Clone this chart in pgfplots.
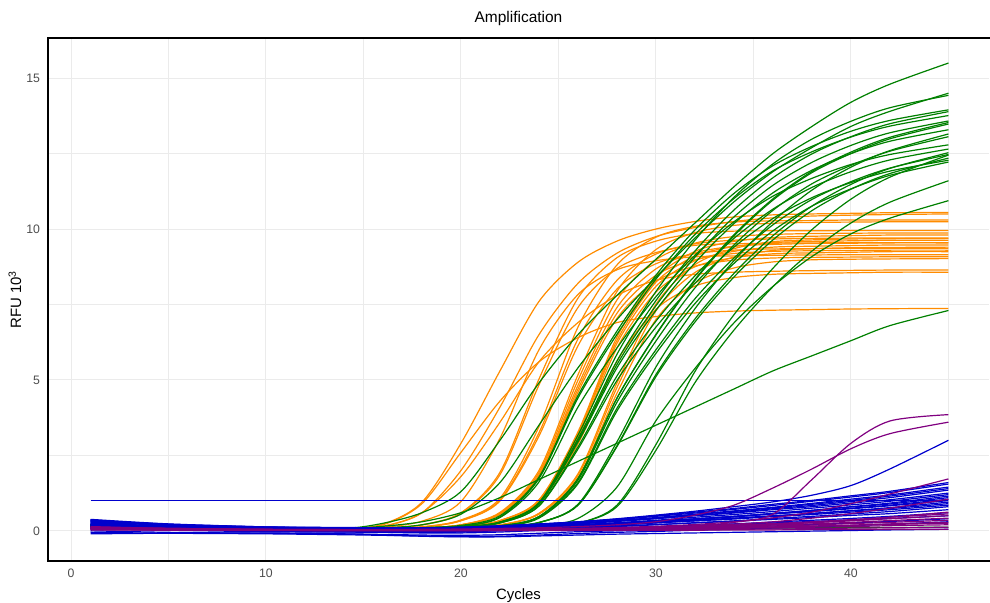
\documentclass[border=0pt]{standalone}
\usepackage{pgfplots}
\pgfplotsset{compat=1.18}
\usepackage{fontspec}
\setmainfont{Liberation Sans}

\definecolor{cOr}{RGB}{255,140,0}
\definecolor{cGr}{RGB}{0,128,0}
\definecolor{cBl}{RGB}{0,0,205}
\definecolor{cPu}{RGB}{128,0,128}
\definecolor{gridc}{RGB}{235,235,235}
\definecolor{tickc}{RGB}{77,77,77}

\pgfplotsset{
  qor/.style={cOr, line width=0.9pt, smooth, no markers},
  qgr/.style={cGr, line width=0.9pt, smooth, no markers},
  qbl/.style={cBl, line width=0.9pt, smooth, no markers},
  qpu/.style={cPu, line width=0.9pt, smooth, no markers},
}

\begin{document}
\begin{tikzpicture}
\path[use as bounding box] (-36pt,-31.5pt) rectangle (706.5pt,420.75pt);
\begin{axis}[
  at={(0pt,0pt)}, anchor=south west,
  scale only axis, width=705.75pt, height=392.25pt,
  xmin=-1.18, xmax=47.08, ymin=-1, ymax=16.33,
  axis line style={draw=none},
  xtick={0,10,20,30,40}, ytick={0,5,10,15},
  minor xtick={5,15,25,35,45}, minor ytick={2.5,7.5,12.5},
  grid=both,
  major grid style={gridc, line width=0.75pt},
  minor grid style={gridc, line width=0.75pt},
  major tick length=0pt, minor tick length=0pt,
  tick style={draw=none},
  /pgf/number format/assume math mode=true,
  tick label style={font=\fontsize{9.2}{11}\selectfont, text=tickc},
  xticklabel style={yshift=-2.6pt},
  yticklabel style={xshift=-2.5pt},
  title={Amplification},
  title style={font=\fontsize{11.6}{14}\selectfont, at={(axis description cs:0.5,1)}, anchor=center, yshift=8.25pt},
  xlabel={Cycles},
  xlabel style={font=\fontsize{11.2}{13}\selectfont, at={(axis description cs:0.5,0)}, anchor=center, yshift=-26pt},
  ylabel={RFU 10\textsuperscript{3}},
  ylabel style={font=\fontsize{11.2}{13}\selectfont, at={(axis description cs:0,0.5)}, anchor=center, yshift=24.75pt},
]
% ---------------- orange wells ----------------
\addplot[qor] coordinates {(1,0.18)(5,0.12)(10,0.08)(14,0.08)(16,0.22)(18,0.95)(20,2.9)(22,5.3)(24,7.6)(26,8.9)(28,9.6)(30,10.0)(32,10.25)(34,10.4)(36,10.47)(38,10.5)(40,10.52)(42,10.54)(45,10.55)};
\addplot[qor] coordinates {(1,0.12)(5,0.09)(10,0.07)(14,0.07)(16,0.15)(18,0.6)(20,2.0)(22,4.1)(24,6.5)(26,8.2)(28,9.2)(30,9.75)(32,10.05)(34,10.25)(36,10.37)(38,10.43)(40,10.46)(42,10.48)(45,10.5)};
\addplot[qor] coordinates {(1,0.15)(5,0.1)(10,0.07)(14,0.06)(16,0.2)(18,0.9)(20,2.6)(22,4.3)(24,5.6)(26,6.4)(28,6.9)(30,7.1)(32,7.22)(34,7.28)(36,7.31)(38,7.33)(40,7.35)(42,7.36)(45,7.37)};
\addplot[qor] coordinates {(1,0.1)(5,0.08)(10,0.06)(14,0.06)(16,0.15)(18,0.6)(20,1.8)(22,3.6)(24,5.6)(26,6.9)(28,7.8)(30,8.3)(32,8.5)(34,8.57)(36,8.6)(38,8.62)(40,8.63)(42,8.64)(45,8.64)};
\addplot[qor] coordinates {(1,0.2)(5,0.12)(10,0.08)(14,0.07)(16,0.12)(18,0.32)(20,0.97)(22,3.07)(24,6.0)(26,7.83)(28,8.65)(30,8.95)(32,9.08)(34,9.11)(36,9.13)(38,9.14)(40,9.15)(42,9.15)(45,9.15)};
\addplot[qor] coordinates {(1,0.22)(5,0.13)(10,0.08)(14,0.07)(16,0.09)(18,0.2)(20,0.6)(22,1.94)(24,5.03)(26,7.71)(28,9.05)(30,9.6)(32,9.85)(34,9.93)(36,9.94)(38,9.94)(40,9.95)(42,9.95)(45,9.95)};
\addplot[qor] coordinates {(1,0.08)(5,0.06)(10,0.05)(14,0.06)(16,0.09)(18,0.19)(20,0.58)(22,1.86)(24,4.83)(26,7.4)(28,8.69)(30,9.22)(32,9.46)(34,9.51)(36,9.53)(38,9.54)(40,9.55)(42,9.55)(45,9.55)};
\addplot[qor] coordinates {(1,0.16)(5,0.1)(10,0.07)(14,0.06)(16,0.07)(18,0.13)(20,0.36)(22,1.08)(24,3.45)(26,6.75)(28,8.81)(30,9.73)(32,10.09)(34,10.23)(36,10.27)(38,10.28)(40,10.3)(42,10.3)(45,10.3)};
\addplot[qor] coordinates {(1,0.12)(5,0.08)(10,0.06)(14,0.06)(16,0.07)(18,0.13)(20,0.34)(22,1.02)(24,3.25)(26,6.36)(28,8.3)(30,9.17)(32,9.51)(34,9.63)(36,9.67)(38,9.69)(40,9.7)(42,9.7)(45,9.7)};
\addplot[qor] coordinates {(1,0.2)(5,0.12)(10,0.07)(14,0.06)(16,0.07)(18,0.12)(20,0.33)(22,0.99)(24,3.14)(26,6.13)(28,8.01)(30,8.85)(32,9.18)(34,9.3)(36,9.34)(38,9.35)(40,9.36)(42,9.36)(45,9.36)};
\addplot[qor] coordinates {(1,0.1)(5,0.07)(10,0.05)(14,0.05)(16,0.06)(18,0.09)(20,0.2)(22,0.61)(24,2.0)(26,5.17)(28,7.93)(30,9.32)(32,9.88)(34,10.12)(36,10.19)(38,10.22)(40,10.23)(42,10.24)(45,10.24)};
\addplot[qor] coordinates {(1,0.14)(5,0.09)(10,0.06)(14,0.05)(16,0.06)(18,0.09)(20,0.2)(22,0.59)(24,1.93)(26,4.99)(28,7.65)(30,8.98)(32,9.53)(34,9.75)(36,9.82)(38,9.85)(40,9.86)(42,9.87)(45,9.87)};
\addplot[qor] coordinates {(1,0.18)(5,0.11)(10,0.07)(14,0.06)(16,0.06)(18,0.09)(20,0.19)(22,0.57)(24,1.86)(26,4.82)(28,7.4)(30,8.68)(32,9.21)(34,9.43)(36,9.49)(38,9.52)(40,9.53)(42,9.54)(45,9.54)};
\addplot[qor] coordinates {(1,0.09)(5,0.07)(10,0.05)(14,0.05)(16,0.06)(18,0.09)(20,0.19)(22,0.55)(24,1.78)(26,4.59)(28,7.04)(30,8.27)(32,8.77)(34,8.97)(36,9.04)(38,9.06)(40,9.07)(42,9.08)(45,9.08)};
\addplot[qor] coordinates {(1,0.13)(5,0.09)(10,0.06)(14,0.05)(16,0.05)(18,0.07)(20,0.13)(22,0.33)(24,1.0)(26,3.18)(28,6.21)(30,8.1)(32,8.95)(34,9.26)(36,9.4)(38,9.43)(40,9.45)(42,9.47)(45,9.47)};
\addplot[qor] coordinates {(1,0.17)(5,0.1)(10,0.07)(14,0.05)(16,0.05)(18,0.07)(20,0.13)(22,0.34)(24,1.01)(26,3.23)(28,6.31)(30,8.24)(32,9.1)(34,9.42)(36,9.55)(38,9.59)(40,9.61)(42,9.63)(45,9.63)};
\addplot[qor] coordinates {(1,0.11)(5,0.08)(10,0.06)(14,0.05)(16,0.05)(18,0.07)(20,0.12)(22,0.33)(24,0.98)(26,3.1)(28,6.06)(30,7.91)(32,8.75)(34,9.05)(36,9.18)(38,9.21)(40,9.23)(42,9.25)(45,9.25)};
\addplot[qor] coordinates {(1,0.15)(5,0.09)(10,0.06)(14,0.05)(16,0.05)(18,0.07)(20,0.12)(22,0.31)(24,0.91)(26,2.88)(28,5.62)(30,7.34)(32,8.11)(34,8.39)(36,8.5)(38,8.53)(40,8.55)(42,8.57)(45,8.57)};
\addplot[qor] coordinates {(1,0.12)(5,0.08)(10,0.06)(14,0.05)(16,0.05)(18,0.06)(20,0.09)(22,0.19)(24,0.55)(26,1.76)(28,4.56)(30,7.0)(32,8.21)(34,8.71)(36,8.91)(38,8.98)(40,9.0)(42,9.01)(45,9.02)};
\addplot[qor] coordinates {(1,0.19)(5,0.11)(10,0.07)(14,0.05)(16,0.05)(18,0.07)(20,0.13)(22,0.34)(24,1.03)(26,3.28)(28,6.42)(30,8.38)(32,9.26)(34,9.59)(36,9.72)(38,9.76)(40,9.78)(42,9.8)(45,9.8)};
\addplot[qor] coordinates {(1,0.1)(5,0.07)(10,0.05)(14,0.05)(16,0.05)(18,0.06)(20,0.09)(22,0.2)(24,0.58)(26,1.89)(28,4.9)(30,7.51)(32,8.82)(34,9.35)(36,9.58)(38,9.64)(40,9.67)(42,9.68)(45,9.69)};
\addplot[qor] coordinates {(1,0.14)(5,0.09)(10,0.06)(14,0.05)(16,0.05)(18,0.06)(20,0.09)(22,0.19)(24,0.57)(26,1.84)(28,4.75)(30,7.29)(32,8.56)(34,9.07)(36,9.29)(38,9.35)(40,9.38)(42,9.39)(45,9.4)};
\addplot[qor] coordinates {(1,0.16)(5,0.1)(10,0.07)(14,0.06)(16,0.06)(18,0.09)(20,0.19)(22,0.56)(24,1.82)(26,4.7)(28,7.21)(30,8.47)(32,8.98)(34,9.19)(36,9.26)(38,9.28)(40,9.29)(42,9.3)(45,9.3)};
% ---------------- green wells ----------------
\addplot[qgr] coordinates {(1,0.2)(5,0.13)(10,0.08)(14,0.08)(16,0.25)(18,0.6)(20,1.3)(22,3.0)(24,4.9)(26,6.5)(28,7.8)(30,9.0)(32,10.2)(34,11.4)(36,12.5)(38,13.4)(40,14.2)(42,14.8)(45,15.5)};
\addplot[qgr] coordinates {(1,0.15)(5,0.1)(10,0.07)(14,0.08)(16,0.15)(18,0.3)(20,0.6)(22,1.1)(24,1.7)(26,2.3)(28,2.9)(30,3.5)(32,4.1)(34,4.7)(36,5.3)(38,5.8)(40,6.3)(42,6.8)(45,7.3)};
\addplot[qgr] coordinates {(1,0.16)(5,0.1)(10,0.07)(14,0.07)(16,0.1)(18,0.2)(20,0.55)(22,1.6)(24,3.5)(26,5.4)(28,7.0)(30,8.4)(32,9.7)(34,10.9)(36,11.9)(38,12.7)(40,13.4)(42,13.9)(45,14.5)};
\addplot[qgr] coordinates {(1,0.12)(5,0.08)(10,0.06)(14,0.05)(16,0.05)(18,0.08)(20,0.12)(22,0.29)(24,0.94)(26,3.17)(28,5.85)(30,7.93)(32,9.63)(34,11.05)(36,12.16)(38,12.98)(40,13.57)(42,14.02)(45,14.43)};
\addplot[qgr] coordinates {(1,0.2)(5,0.12)(10,0.08)(14,0.07)(16,0.08)(18,0.11)(20,0.18)(22,0.5)(24,1.78)(26,4.48)(28,6.62)(30,8.47)(32,9.97)(34,11.18)(36,12.1)(38,12.74)(40,13.24)(42,13.6)(45,13.95)};
\addplot[qgr] coordinates {(1,0.1)(5,0.07)(10,0.05)(14,0.05)(16,0.05)(18,0.08)(20,0.12)(22,0.28)(24,0.91)(26,3.05)(28,5.63)(30,7.63)(32,9.27)(34,10.63)(36,11.7)(38,12.49)(40,13.06)(42,13.49)(45,13.89)};
\addplot[qgr] coordinates {(1,0.14)(5,0.09)(10,0.05)(14,0.04)(16,0.05)(18,0.08)(20,0.15)(22,0.46)(24,1.73)(26,4.4)(28,6.51)(30,8.34)(32,9.82)(34,11.01)(36,11.93)(38,12.56)(40,13.05)(42,13.41)(45,13.76)};
\addplot[qgr] coordinates {(1,0.18)(5,0.11)(10,0.07)(14,0.06)(16,0.06)(18,0.09)(20,0.13)(22,0.28)(24,0.9)(26,2.99)(28,5.51)(30,7.46)(32,9.07)(34,10.4)(36,11.45)(38,12.21)(40,12.77)(42,13.19)(45,13.58)};
\addplot[qgr] coordinates {(1,0.11)(5,0.07)(10,0.05)(14,0.05)(16,0.05)(18,0.06)(20,0.09)(22,0.16)(24,0.47)(26,1.73)(28,4.39)(30,6.49)(32,8.3)(34,9.77)(36,10.96)(38,11.87)(40,12.5)(42,12.99)(45,13.48)};
\addplot[qgr] coordinates {(1,0.15)(5,0.1)(10,0.08)(14,0.07)(16,0.07)(18,0.1)(20,0.14)(22,0.29)(24,0.89)(26,2.94)(28,5.4)(30,7.31)(32,8.88)(34,10.18)(36,11.2)(38,11.95)(40,12.5)(42,12.91)(45,13.29)};
\addplot[qgr] coordinates {(1,0.13)(5,0.08)(10,0.06)(14,0.05)(16,0.05)(18,0.05)(20,0.08)(22,0.12)(24,0.27)(26,0.88)(28,2.95)(30,5.43)(32,7.36)(34,8.95)(36,10.25)(38,11.29)(40,12.05)(42,12.6)(45,13.15)};
\addplot[qgr] coordinates {(1,0.17)(5,0.1)(10,0.07)(14,0.06)(16,0.06)(18,0.07)(20,0.1)(22,0.17)(24,0.47)(26,1.68)(28,4.26)(30,6.29)(32,8.05)(34,9.47)(36,10.62)(38,11.5)(40,12.11)(42,12.58)(45,13.06)};
\addplot[qgr] coordinates {(1,0.09)(5,0.06)(10,0.05)(14,0.04)(16,0.04)(18,0.04)(20,0.04)(22,0.07)(24,0.11)(26,0.25)(28,0.85)(30,2.86)(32,5.28)(34,7.16)(36,8.7)(38,9.98)(40,10.99)(42,11.72)(45,12.45)};
\addplot[qgr] coordinates {(1,0.14)(5,0.09)(10,0.06)(14,0.05)(16,0.05)(18,0.08)(20,0.12)(22,0.26)(24,0.83)(26,2.78)(28,5.13)(30,6.95)(32,8.45)(34,9.69)(36,10.66)(38,11.38)(40,11.9)(42,12.29)(45,12.65)};
\addplot[qgr] coordinates {(1,0.19)(5,0.11)(10,0.07)(14,0.06)(16,0.06)(18,0.06)(20,0.09)(22,0.13)(24,0.27)(26,0.85)(28,2.82)(30,5.18)(32,7.02)(34,8.53)(36,9.78)(38,10.76)(40,11.48)(42,12.01)(45,12.53)};
\addplot[qgr] coordinates {(1,0.12)(5,0.08)(10,0.06)(14,0.05)(16,0.05)(18,0.06)(20,0.09)(22,0.15)(24,0.44)(26,1.6)(28,4.06)(30,6.0)(32,7.69)(34,9.04)(36,10.14)(38,10.98)(40,11.57)(42,12.02)(45,12.47)};
\addplot[qgr] coordinates {(1,0.21)(5,0.13)(10,0.08)(14,0.07)(16,0.07)(18,0.07)(20,0.1)(22,0.14)(24,0.28)(26,0.85)(28,2.79)(30,5.11)(32,6.92)(34,8.41)(36,9.64)(38,10.61)(40,11.32)(42,11.84)(45,12.35)};
\addplot[qgr] coordinates {(1,0.1)(5,0.06)(10,0.05)(14,0.04)(16,0.04)(18,0.05)(20,0.08)(22,0.14)(24,0.42)(26,1.56)(28,3.97)(30,5.88)(32,7.53)(34,8.86)(36,9.94)(38,10.76)(40,11.33)(42,11.78)(45,12.22)};
\addplot[qgr] coordinates {(1,0.16)(5,0.1)(10,0.07)(14,0.05)(16,0.05)(18,0.05)(20,0.05)(22,0.08)(24,0.11)(26,0.25)(28,0.8)(30,2.67)(32,4.91)(34,6.65)(36,8.09)(38,9.27)(40,10.2)(42,10.89)(45,11.6)};
\addplot[qgr] coordinates {(1,0.13)(5,0.09)(10,0.07)(14,0.06)(16,0.06)(18,0.06)(20,0.07)(22,0.1)(24,0.15)(26,0.41)(28,1.45)(30,3.65)(32,5.38)(34,6.89)(36,8.1)(38,9.09)(40,9.84)(42,10.36)(45,10.94)};
\addplot[qgr] coordinates {(1,0.17)(5,0.11)(10,0.07)(14,0.06)(16,0.06)(18,0.09)(20,0.15)(22,0.44)(24,1.62)(26,4.1)(28,6.06)(30,7.76)(32,9.13)(34,10.24)(36,11.09)(38,11.68)(40,12.14)(42,12.47)(45,12.79)};
\addplot[qgr] coordinates {(1,0.11)(5,0.08)(10,0.06)(14,0.06)(16,0.06)(18,0.09)(20,0.12)(22,0.26)(24,0.82)(26,2.71)(28,4.98)(30,6.75)(32,8.2)(34,9.4)(36,10.35)(38,11.04)(40,11.54)(42,11.92)(45,12.28)};
\addplot[qgr] coordinates {(1,0.2)(5,0.12)(10,0.07)(14,0.05)(16,0.05)(18,0.06)(20,0.09)(22,0.16)(24,0.47)(26,1.73)(28,4.4)(30,6.51)(32,8.33)(34,9.81)(36,11.0)(38,11.91)(40,12.55)(42,13.04)(45,13.53)};
\addplot[qgr] coordinates {(1,0.12)(5,0.08)(10,0.06)(14,0.05)(16,0.05)(18,0.05)(20,0.05)(22,0.06)(24,0.06)(26,0.07)(28,0.07)(30,0.08)(32,0.08)(34,0.09)(36,0.09)(38,0.1)(40,0.1)(42,0.11)(45,0.12)};
% ---------------- blue wells ----------------
\addplot[qbl] coordinates {(1,0.38)(5,0.23)(10,0.13)(14,0.09)(16,0.08)(18,0.08)(20,0.11)(22,0.15)(24,0.21)(26,0.29)(28,0.37)(30,0.48)(32,0.59)(34,0.71)(36,0.84)(38,0.98)(40,1.12)(42,1.27)(45,1.55)};
\addplot[qbl] coordinates {(1,0.35)(5,0.21)(10,0.1)(14,0.07)(16,0.06)(18,0.06)(20,0.09)(22,0.13)(24,0.19)(26,0.25)(28,0.34)(30,0.44)(32,0.55)(34,0.66)(36,0.78)(38,0.91)(40,1.05)(42,1.19)(45,1.45)};
\addplot[qbl] coordinates {(1,0.3)(5,0.18)(10,0.09)(14,0.06)(16,0.05)(18,0.05)(20,0.08)(22,0.12)(24,0.17)(26,0.23)(28,0.31)(30,0.4)(32,0.51)(34,0.61)(36,0.73)(38,0.84)(40,0.97)(42,1.1)(45,1.35)};
\addplot[qbl] coordinates {(1,0.28)(5,0.19)(10,0.13)(14,0.11)(16,0.1)(18,0.1)(20,0.12)(22,0.16)(24,0.2)(26,0.26)(28,0.33)(30,0.41)(32,0.5)(34,0.59)(36,0.7)(38,0.8)(40,0.92)(42,1.03)(45,1.25)};
\addplot[qbl] coordinates {(1,0.25)(5,0.14)(10,0.07)(14,0.05)(16,0.04)(18,0.04)(20,0.06)(22,0.1)(24,0.14)(26,0.2)(28,0.27)(30,0.35)(32,0.45)(34,0.54)(36,0.64)(38,0.75)(40,0.86)(42,0.98)(45,1.2)};
\addplot[qbl] coordinates {(1,0.22)(5,0.12)(10,0.05)(14,0.03)(16,0.02)(18,0.01)(20,0.04)(22,0.07)(24,0.12)(26,0.17)(28,0.24)(30,0.31)(32,0.4)(34,0.48)(36,0.58)(38,0.68)(40,0.79)(42,0.89)(45,1.1)};
\addplot[qbl] coordinates {(1,0.2)(5,0.14)(10,0.1)(14,0.09)(16,0.08)(18,0.08)(20,0.1)(22,0.13)(24,0.16)(26,0.21)(28,0.26)(30,0.33)(32,0.4)(34,0.48)(36,0.56)(38,0.64)(40,0.73)(42,0.83)(45,1.0)};
\addplot[qbl] coordinates {(1,0.18)(5,0.09)(10,0.03)(14,0.01)(16,0.0)(18,-0.02)(20,-0.01)(22,0.03)(24,0.08)(26,0.13)(28,0.19)(30,0.26)(32,0.33)(34,0.41)(36,0.49)(38,0.58)(40,0.67)(42,0.77)(45,0.95)};
\addplot[qbl] coordinates {(1,0.15)(5,0.1)(10,0.07)(14,0.06)(16,0.05)(18,0.05)(20,0.07)(22,0.09)(24,0.12)(26,0.16)(28,0.21)(30,0.27)(32,0.33)(34,0.39)(36,0.47)(38,0.54)(40,0.62)(42,0.7)(45,0.85)};
\addplot[qbl] coordinates {(1,0.12)(5,0.05)(10,0.0)(14,-0.01)(16,-0.02)(18,-0.04)(20,-0.03)(22,0.0)(24,0.05)(26,0.09)(28,0.14)(30,0.2)(32,0.27)(34,0.33)(36,0.41)(38,0.48)(40,0.56)(42,0.64)(45,0.8)};
\addplot[qbl] coordinates {(1,0.1)(5,0.07)(10,0.04)(14,0.03)(16,0.03)(18,0.03)(20,0.04)(22,0.06)(24,0.09)(26,0.12)(28,0.16)(30,0.21)(32,0.26)(34,0.32)(36,0.38)(38,0.44)(40,0.51)(42,0.57)(45,0.7)};
\addplot[qbl] coordinates {(1,0.08)(5,0.02)(10,-0.03)(14,-0.04)(16,-0.05)(18,-0.07)(20,-0.07)(22,-0.04)(24,0.01)(26,0.04)(28,0.08)(30,0.13)(32,0.18)(34,0.23)(36,0.29)(38,0.35)(40,0.41)(42,0.48)(45,0.6)};
\addplot[qbl] coordinates {(1,0.05)(5,0.03)(10,0.01)(14,0.0)(16,0.0)(18,-0.01)(20,0.0)(22,0.02)(24,0.05)(26,0.07)(28,0.1)(30,0.14)(32,0.18)(34,0.22)(36,0.26)(38,0.31)(40,0.36)(42,0.41)(45,0.5)};
\addplot[qbl] coordinates {(1,0.0)(5,-0.05)(10,-0.08)(14,-0.1)(16,-0.12)(18,-0.14)(20,-0.15)(22,-0.13)(24,-0.08)(26,-0.03)(28,0.0)(30,0.04)(32,0.08)(34,0.12)(36,0.16)(38,0.21)(40,0.26)(42,0.31)(45,0.4)};
\addplot[qbl] coordinates {(1,-0.05)(5,-0.08)(10,-0.1)(14,-0.13)(16,-0.15)(18,-0.17)(20,-0.19)(22,-0.18)(24,-0.14)(26,-0.09)(28,-0.05)(30,-0.02)(32,0.02)(34,0.05)(36,0.09)(38,0.13)(40,0.17)(42,0.22)(45,0.3)};
\addplot[qbl] coordinates {(1,-0.1)(5,-0.08)(10,-0.07)(14,-0.1)(16,-0.14)(18,-0.18)(20,-0.2)(22,-0.2)(24,-0.17)(26,-0.14)(28,-0.11)(30,-0.09)(32,-0.07)(34,-0.05)(36,-0.03)(38,-0.01)(40,0.01)(42,0.03)(45,0.05)};
\addplot[qbl] coordinates {(1,0.32)(5,0.2)(10,0.11)(14,0.08)(16,0.07)(18,0.07)(20,0.1)(22,0.14)(24,0.19)(26,0.26)(28,0.34)(30,0.43)(32,0.54)(34,0.64)(36,0.76)(38,0.88)(40,1.01)(42,1.15)(45,1.4)};
\addplot[qbl] coordinates {(1,0.15)(5,0.08)(10,0.04)(14,0.03)(16,0.02)(18,0.02)(20,0.04)(22,0.07)(24,0.11)(26,0.16)(28,0.23)(30,0.3)(32,0.38)(34,0.46)(36,0.56)(38,0.65)(40,0.75)(42,0.85)(45,1.05)};
\addplot[qbl] coordinates {(1,0.33)(5,0.2)(10,0.1)(14,0.07)(16,0.06)(18,0.07)(20,0.1)(22,0.15)(24,0.22)(26,0.3)(28,0.4)(30,0.52)(32,0.65)(34,0.8)(36,0.96)(38,1.18)(40,1.5)(42,2.05)(45,3.0)};
\addplot[qbl] coordinates {(1,0.36)(5,0.22)(10,0.13)(14,0.1)(16,0.09)(18,0.09)(20,0.12)(22,0.17)(24,0.23)(26,0.3)(28,0.39)(30,0.5)(32,0.62)(34,0.74)(36,0.88)(38,1.01)(40,1.16)(42,1.31)(45,1.6)};
\addplot[qbl] coordinates {(1,0.26)(5,0.16)(10,0.09)(14,0.07)(16,0.06)(18,0.05)(20,0.08)(22,0.1)(24,0.14)(26,0.18)(28,0.23)(30,0.29)(32,0.35)(34,0.42)(36,0.5)(38,0.57)(40,0.66)(42,0.74)(45,0.9)};
\addplot[qbl] coordinates {(1,0.2)(5,0.08)(10,0.0)(14,-0.04)(16,-0.05)(18,-0.06)(20,-0.04)(22,0.01)(24,0.06)(26,0.12)(28,0.19)(30,0.27)(32,0.37)(34,0.47)(36,0.57)(38,0.68)(40,0.8)(42,0.92)(45,1.15)};
% threshold
\addplot[cBl, line width=0.9pt, no markers] coordinates {(1,1)(45,1)};
% ---------------- purple wells ----------------
\addplot[qpu] coordinates {(1,0.1)(5,0.08)(10,0.05)(14,0.04)(16,0.04)(18,0.04)(20,0.04)(22,0.05)(24,0.06)(26,0.07)(28,0.09)(30,0.12)(32,0.17)(34,0.28)(36,0.55)(38,1.7)(40,2.9)(42,3.64)(45,3.85)};
\addplot[qpu] coordinates {(1,0.12)(5,0.08)(10,0.05)(14,0.04)(16,0.04)(18,0.05)(20,0.06)(22,0.08)(24,0.1)(26,0.14)(28,0.2)(30,0.3)(32,0.52)(34,0.85)(36,1.42)(38,2.05)(40,2.72)(42,3.22)(45,3.6)};
\addplot[qpu] coordinates {(1,0.08)(5,0.05)(10,0.03)(14,0.02)(16,0.02)(18,0.02)(20,0.03)(22,0.04)(24,0.06)(26,0.08)(28,0.11)(30,0.15)(32,0.21)(34,0.3)(36,0.43)(38,0.62)(40,0.9)(42,1.22)(45,1.72)};
\addplot[qpu] coordinates {(1,0.1)(5,0.06)(10,0.03)(14,0.02)(16,0.02)(18,0.02)(20,0.03)(22,0.04)(24,0.05)(26,0.07)(28,0.09)(30,0.12)(32,0.16)(34,0.22)(36,0.3)(38,0.42)(40,0.57)(42,0.75)(45,1.05)};
\addplot[qpu] coordinates {(1,0.06)(5,0.04)(10,0.03)(14,0.02)(16,0.02)(18,0.02)(20,0.02)(22,0.03)(24,0.04)(26,0.05)(28,0.06)(30,0.08)(32,0.11)(34,0.15)(36,0.2)(38,0.27)(40,0.35)(42,0.45)(45,0.62)};
\addplot[qpu] coordinates {(1,0.14)(5,0.08)(10,0.04)(14,0.03)(16,0.03)(18,0.03)(20,0.03)(22,0.03)(24,0.04)(26,0.05)(28,0.07)(30,0.09)(32,0.13)(34,0.17)(36,0.22)(38,0.27)(40,0.33)(42,0.4)(45,0.5)};
\addplot[qpu] coordinates {(1,0.05)(5,0.03)(10,0.02)(14,0.02)(16,0.02)(18,0.02)(20,0.02)(22,0.03)(24,0.03)(26,0.04)(28,0.06)(30,0.08)(32,0.11)(34,0.15)(36,0.19)(38,0.23)(40,0.28)(42,0.34)(45,0.42)};
\addplot[qpu] coordinates {(1,0.11)(5,0.07)(10,0.04)(14,0.03)(16,0.03)(18,0.03)(20,0.03)(22,0.03)(24,0.03)(26,0.04)(28,0.05)(30,0.07)(32,0.09)(34,0.12)(36,0.16)(38,0.19)(40,0.24)(42,0.28)(45,0.35)};
\addplot[qpu] coordinates {(1,0.07)(5,0.05)(10,0.03)(14,0.02)(16,0.02)(18,0.02)(20,0.02)(22,0.02)(24,0.03)(26,0.03)(28,0.04)(30,0.06)(32,0.08)(34,0.1)(36,0.13)(38,0.16)(40,0.19)(42,0.23)(45,0.28)};
\addplot[qpu] coordinates {(1,0.09)(5,0.05)(10,0.03)(14,0.02)(16,0.02)(18,0.02)(20,0.02)(22,0.02)(24,0.03)(26,0.03)(28,0.04)(30,0.05)(32,0.06)(34,0.08)(36,0.1)(38,0.12)(40,0.14)(42,0.17)(45,0.2)};
\addplot[qpu] coordinates {(1,0.04)(5,0.03)(10,0.02)(14,0.01)(16,0.01)(18,0.01)(20,0.01)(22,0.01)(24,0.02)(26,0.02)(28,0.03)(30,0.03)(32,0.04)(34,0.05)(36,0.06)(38,0.07)(40,0.09)(42,0.1)(45,0.12)};
\addplot[qpu] coordinates {(1,0.03)(5,0.02)(10,0.01)(14,0.0)(16,0.0)(18,0.0)(20,0.0)(22,0.01)(24,0.01)(26,0.01)(28,0.02)(30,0.02)(32,0.02)(34,0.03)(36,0.03)(38,0.04)(40,0.04)(42,0.05)(45,0.05)};
\addplot[qpu] coordinates {(1,0.12)(5,0.07)(10,0.04)(14,0.03)(16,0.03)(18,0.03)(20,0.03)(22,0.04)(24,0.05)(26,0.06)(28,0.07)(30,0.1)(32,0.14)(34,0.19)(36,0.24)(38,0.3)(40,0.37)(42,0.45)(45,0.56)};
\addplot[qpu] coordinates {(1,0.08)(5,0.05)(10,0.03)(14,0.02)(16,0.02)(18,0.02)(20,0.02)(22,0.02)(24,0.03)(26,0.04)(28,0.05)(30,0.06)(32,0.08)(34,0.1)(36,0.12)(38,0.15)(40,0.18)(42,0.21)(45,0.25)};
\end{axis}
% frame: left, top and bottom edges of the plotting area
\draw[line width=1.1pt, line cap=rect] (705.75pt,392.25pt) -- (0pt,392.25pt) -- (0pt,0pt) -- (705.75pt,0pt);
\end{tikzpicture}
\end{document}
